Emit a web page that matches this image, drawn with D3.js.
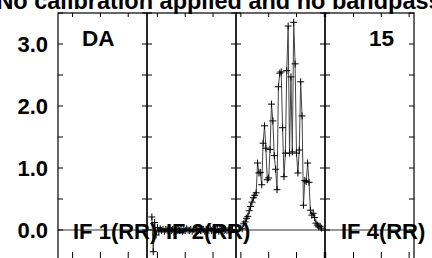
<!DOCTYPE html>
<html>
<head>
<meta charset="utf-8">
<script src="https://cdn.jsdelivr.net/npm/d3@7"></script>
<style>
  html, body { margin: 0; padding: 0; background: #fff; }
  svg { display: block; font-family: "Liberation Sans", Arial, Helvetica, sans-serif; font-weight: bold; }
</style>
</head>
<body>
<div id="chart"></div>
<script>
// channel numbers of each IF
const channels = d3.range(1, 65);
const ifLabels = ['IF 1(RR)', 'IF 2(RR)', '', 'IF 4(RR)'];
const yTicks = [-0.5, 0, 0.5, 1, 1.5, 2, 2.5, 3, 3.5];
const yTickLabels = ['0.0', '1.0', '2.0', '3.0'];
const yLabelValues = [0, 1, 2, 3];
// frequency tick marks, expressed as channel positions per IF
const xTicksPerIF = [[11, 31, 51], [8, 28, 48], [4, 24, 44, 64], [1, 21, 41, 61]];

// amplitudes per channel (null = flagged / no data)
const if1Amp = channels.map(() => null);
const if2Amp = [null, null, null, 0.21, -0.35, 0.12, -0.08, 0.04, -0.03, 0.02,
  -0.01, 0.01, -0.02, 0.01, 0.00, -0.01, 0.02, -0.01, 0.01, -0.02,
  0.01, 0.00, 0.02, -0.01, 0.01, -0.02, 0.01, -0.01, 0.02, 0.00,
  -0.01, 0.01, -0.02, 0.01, 0.00, 0.01, -0.01, 0.02, -0.01, 0.00,
  0.01, -0.02, 0.01, 0.00, -0.01, 0.02, -0.01, 0.01, 0.00, -0.01,
  0.01, -0.02, 0.01, 0.00, 0.02, -0.01, 0.01, -0.01, 0.00, 0.01,
  -0.01, 0.01, null, null];
const if3Amp = [null, null, null, null, 0.02, 0.10, 0.13, 0.19, 0.22, 0.31,
  0.38, 0.45, 0.52, 0.56, 0.60, 1.08, 0.92, 0.93, 0.73, 1.40,
  1.68, 1.32, 0.81, 0.84, 1.30, 2.03, 1.76, 1.20, 0.98, 0.65,
  2.31, 2.53, 2.55, 1.65, 0.86, 1.24, 2.57, 3.29, 1.24, 2.47,
  1.26, 3.35, 2.68, 1.24, 0.92, 1.29, 2.39, 1.84, 0.40, 0.80,
  0.78, 1.08, 0.77, 0.32, 0.24, 0.27, 0.20, 0.11, 0.08, 0.05,
  0.06, 0.03, null, null];
const if4Amp = channels.map(() => null);
const ampByIF = [if1Amp, if2Amp, if3Amp, if4Amp];

const title = 'No calibration applied and no bandpass';
const baselineLabel = 'DA';
const sourceLabel = '15';

const width = 432, height = 258;
const plotLeft = 58, panelW = 89, plotTop = 13, plotBottom = 261;

const svg = d3.select('#chart').append('svg')
  .attr('width', width).attr('height', height);

const y = d3.scaleLinear().domain([-0.5, 3.5]).range([plotBottom, plotTop]);

svg.append('text')
  .attr('x', 219).attr('y', 9)
  .attr('text-anchor', 'middle')
  .style('font-size', '23.5px')
  .text(title);

// y tick labels
svg.selectAll('.ylab').data(yLabelValues).enter().append('text')
  .attr('class', 'ylab')
  .attr('x', 48).attr('y', d => y(d) + 8)
  .attr('text-anchor', 'end')
  .style('font-size', '22px')
  .text((d, i) => yTickLabels[i]);

ampByIF.forEach((amp, i) => {
  const x0 = plotLeft + i * panelW;
  const x = d3.scaleLinear().domain([0.5, 64.5]).range([x0, x0 + panelW]);
  const g = svg.append('g');

  // zero line
  g.append('line')
    .attr('x1', x0).attr('x2', x0 + panelW)
    .attr('y1', y(0)).attr('y2', y(0))
    .attr('stroke', '#333').attr('stroke-width', 1);

  // frame
  g.append('rect')
    .attr('x', x0).attr('y', plotTop).attr('width', panelW).attr('height', plotBottom - plotTop)
    .attr('fill', 'none').attr('stroke', '#000').attr('stroke-width', 1.2);

  // y ticks on both sides of each panel
  yTicks.forEach(t => {
    g.append('line').attr('x1', x0).attr('x2', x0 + 5).attr('y1', y(t)).attr('y2', y(t)).attr('stroke', '#000');
    g.append('line').attr('x1', x0 + panelW - 5).attr('x2', x0 + panelW).attr('y1', y(t)).attr('y2', y(t)).attr('stroke', '#000');
  });

  // x ticks, top and bottom
  xTicksPerIF[i].forEach(c => {
    g.append('line').attr('x1', x(c)).attr('x2', x(c)).attr('y1', plotTop).attr('y2', plotTop + 4).attr('stroke', '#000');
    g.append('line').attr('x1', x(c)).attr('x2', x(c)).attr('y1', plotBottom - 9).attr('y2', plotBottom).attr('stroke', '#000');
  });

  const pts = channels.map((c, k) => ({ c, v: amp[k] })).filter(d => d.v !== null);

  const line = d3.line().x(d => x(d.c)).y(d => y(d.v));
  g.append('path').datum(pts)
    .attr('d', line)
    .attr('fill', 'none').attr('stroke', '#444').attr('stroke-width', 1);

  const s = 3.5;
  g.selectAll('.pt').data(pts).enter().append('path')
    .attr('class', 'pt')
    .attr('d', d => `M${x(d.c) - s},${y(d.v)}H${x(d.c) + s}M${x(d.c)},${y(d.v) - s}V${y(d.v) + s}`)
    .attr('stroke', '#000').attr('stroke-width', 1).attr('fill', 'none');
});

// IF labels drawn last so they sit over the traces
const labelOffsets = [15, 19, 0, 16];
ifLabels.forEach((lab, i) => {
  if (!lab) return;
  svg.append('text')
    .attr('x', plotLeft + i * panelW + labelOffsets[i]).attr('y', 239)
    .style('font-size', '22px')
    .text(lab);
});

svg.append('text')
  .attr('x', 82).attr('y', 46)
  .style('font-size', '22.5px')
  .text(baselineLabel);

svg.append('text')
  .attr('x', 394).attr('y', 46)
  .attr('text-anchor', 'end')
  .style('font-size', '22.5px')
  .text(sourceLabel);
</script>
</body>
</html>
